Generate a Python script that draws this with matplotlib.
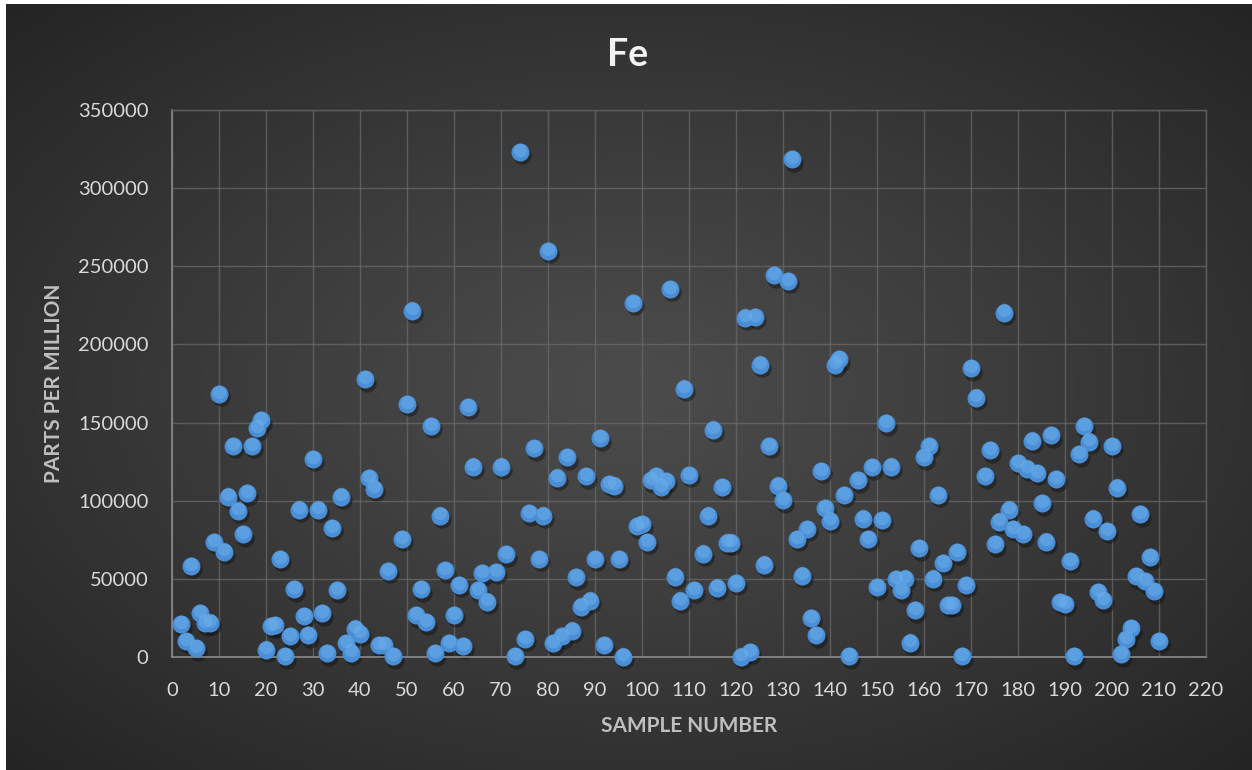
import numpy as np
import matplotlib
matplotlib.use("Agg")
import matplotlib.pyplot as plt
import matplotlib.transforms as mtransforms

# Fe concentration per sample
samples = [2, 3, 4, 5, 6, 7, 8, 9, 10, 11, 12, 13, 14, 15, 16, 17, 18, 19, 20,
           21, 22, 23, 24, 25, 26, 27, 28, 29, 30, 31, 32, 33, 34, 35, 36, 37, 38, 39, 40,
           41, 42, 43, 44, 45, 46, 47, 49, 50, 51, 52, 53, 54, 55, 56, 57, 58, 59, 60,
           61, 62, 63, 64, 65, 66, 67, 69, 70, 71, 73, 74, 75, 76, 77, 78, 79, 80,
           81, 82, 83, 84, 85, 86, 87, 88, 89, 90, 91, 92, 93, 94, 95, 96, 98, 99, 100,
           101, 102, 103, 104, 105, 106, 107, 108, 109, 110, 111, 113, 114, 115, 116, 117, 118, 119, 120,
           121, 122, 123, 124, 125, 126, 127, 128, 129, 130, 131, 132, 133, 134, 135, 136, 137, 138, 139, 140,
           141, 142, 143, 144, 146, 147, 148, 149, 150, 151, 152, 153, 154, 155, 156, 157, 158, 159, 160,
           161, 162, 163, 164, 165, 166, 167, 168, 169, 170, 171, 173, 174, 175, 176, 177, 178, 179, 180,
           181, 182, 183, 184, 185, 186, 187, 188, 189, 190, 191, 192, 193, 194, 195, 196, 197, 198, 199, 200,
           201, 202, 203, 204, 205, 206, 207, 208, 209, 210]

fe_ppm = [20900, 10300, 58400, 5600, 28200, 21600, 22000, 73700, 168300, 67400, 102600, 135000, 93600, 78400, 104900, 135000, 146500, 151600, 4700,
          19900, 20400, 62700, 500, 13400, 43200, 94300, 26300, 13800, 126700, 94300, 27900, 2300, 82600, 42700, 102600, 8700, 2800, 18100, 15000,
          177700, 114300, 107700, 7500, 7500, 55200, 500, 75600, 161900, 221600, 26800, 43200, 22300, 147900, 2300, 90400, 55600, 8700, 27000,
          46200, 7000, 160100, 121800, 42700, 53700, 35400, 54500, 121800, 65700, 500, 323200, 11500, 92000, 133500, 62700, 90400, 259800,
          8700, 114800, 13400, 127900, 16900, 50900, 32200, 115500, 36100, 62700, 140100, 7500, 110800, 109600, 62700, 200, 226500, 83800, 85000,
          73700, 113100, 115500, 108900, 112700, 235600, 51400, 36100, 171800, 116600, 42700, 66200, 90400, 145500, 44400, 108900, 73200, 73200, 47400,
          200, 217100, 3300, 217600, 187100, 59100, 135000, 244200, 109600, 100200, 240600, 318500, 75600, 52100, 81900, 25100, 13800, 119000, 95500, 87300,
          187100, 190600, 103700, 500, 113100, 88500, 75600, 121300, 44600, 87800, 149500, 121800, 49800, 42700, 50200, 9200, 29800, 69700, 127700,
          135000, 50200, 103700, 60300, 33300, 33300, 66900, 500, 46200, 184700, 165900, 115500, 132400, 72100, 86600, 220400, 94300, 81900, 124200,
          78600, 120600, 138500, 117800, 98300, 73900, 141800, 113600, 35200, 34000, 61500, 500, 129600, 147600, 137800, 88500, 41500, 36400, 80700, 135000,
          108400, 1600, 11500, 18500, 51600, 91300, 48600, 63800, 42200, 10300]

x_ticks = list(range(0, 221, 10))
y_ticks = list(range(0, 350001, 50000))

W, H = 1252, 770
fig = plt.figure(figsize=(W / 100, H / 100), dpi=100, facecolor="white")

# dark radial-gradient chart background
bg = fig.add_axes([6 / W, 0, 1 - 6 / W, 1 - 4 / H], zorder=0)
gx, gy = np.meshgrid(np.linspace(-1, 1, 600), np.linspace(-1, 1, 380))
r = np.sqrt(gx ** 2 + gy ** 2) / np.sqrt(2)
inner = np.array([0x4c, 0x4c, 0x4c]) / 255
outer = np.array([0x24, 0x24, 0x24]) / 255
t = np.clip(r, 0, 1)[..., None] ** 1.1
img = inner * (1 - t) + outer * t
bg.imshow(img, aspect="auto", extent=[0, 1, 0, 1], interpolation="bilinear")
bg.set_axis_off()

font = "Lato"
ax = fig.add_axes([172 / W, 1 - 657 / H, (1206 - 172) / W, (657 - 110) / H], zorder=1)
ax.set_facecolor("none")
ax.set_xlim(0, 220)
ax.set_ylim(0, 350000)
ax.set_xticks(x_ticks)
ax.set_yticks(y_ticks)
ax.set_xticklabels([str(v) for v in x_ticks])
ax.set_yticklabels([str(v) for v in y_ticks])
ax.tick_params(axis="both", length=0, colors="#d9d9d9", labelsize=14.5)
ax.tick_params(axis="x", pad=18)
ax.tick_params(axis="y", pad=17)
for lab in ax.get_xticklabels() + ax.get_yticklabels():
    lab.set_fontfamily(font)

ax.grid(True, color="#6a6a6a", linewidth=1.0, alpha=0.75)
ax.set_axisbelow(True)
for side in ("top", "right"):
    ax.spines[side].set_color("#5e5e5e")
    ax.spines[side].set_linewidth(1.0)
for side in ("left", "bottom"):
    ax.spines[side].set_color("#8a8a8a")
    ax.spines[side].set_linewidth(1.2)

# markers: soft shadow, body, highlight
shadow = mtransforms.offset_copy(ax.transData, fig=fig, x=1.5, y=-2.5, units="points")
ax.scatter(samples, fe_ppm, s=175, color="#101010", alpha=0.45, linewidths=0,
           transform=shadow, zorder=2, clip_on=False)
ax.scatter(samples, fe_ppm, s=168, color="#4a8ed6", linewidths=0, zorder=3, clip_on=False)
hl = mtransforms.offset_copy(ax.transData, fig=fig, x=0, y=1.6, units="points")
ax.scatter(samples, fe_ppm, s=95, color="#6aaeea", alpha=0.55, linewidths=0,
           transform=hl, zorder=4, clip_on=False)

ax.set_xlabel("SAMPLE NUMBER", fontfamily=font, fontweight="bold", fontsize=15,
              color="#bfbfbf")
ax.set_ylabel("PARTS PER MILLION", fontfamily=font, fontweight="bold", fontsize=15,
              color="#bfbfbf")
ax.xaxis.set_label_coords(0.5, -(716 - 657) / (657 - 110), transform=ax.transAxes)
ax.yaxis.set_label_coords(-(172 - 64) / (1206 - 172), 0.5, transform=ax.transAxes)

fig.text(0.5 + 2 / W, 1 - 55 / H, "Fe", ha="center", va="center", fontfamily=font,
         fontweight="bold", fontsize=27, color="#f2f2f2")

fig.savefig("out.png", dpi=100, facecolor=fig.get_facecolor())
